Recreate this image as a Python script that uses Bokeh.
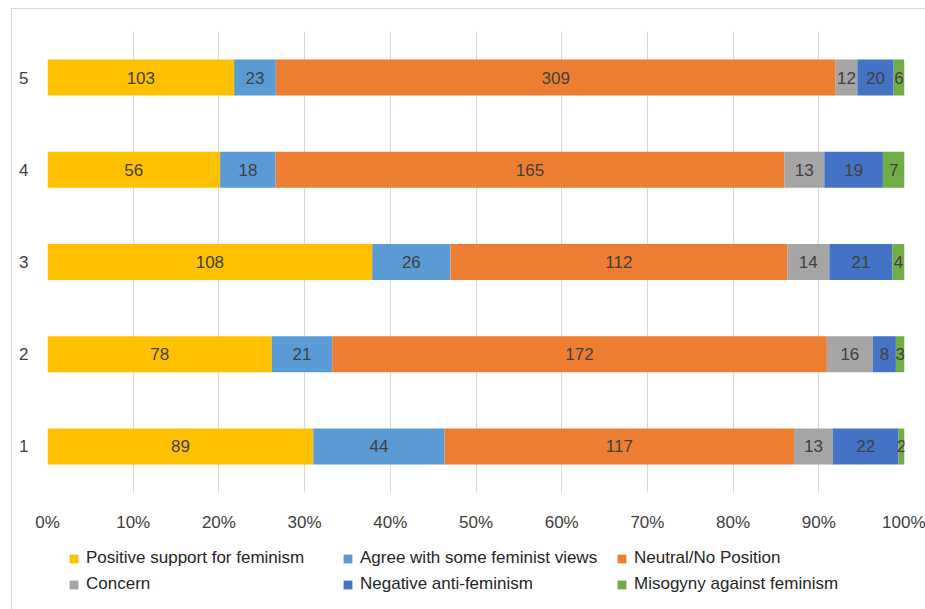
from bokeh.plotting import figure
from bokeh.layouts import column
from bokeh.models import (ColumnDataSource, FixedTicker, NumeralTickFormatter,
                          Legend, LegendItem)
from bokeh.core.properties import value
from bokeh.embed import file_html
from bokeh.resources import INLINE

# Response counts per group (1 = bottom row, 5 = top row)
groups = [1, 2, 3, 4, 5]
positive = [89, 78, 108, 56, 103]
agree = [44, 21, 26, 18, 23]
neutral = [117, 172, 112, 165, 309]
concern = [13, 16, 14, 13, 12]
negative = [22, 8, 21, 19, 20]
misogyny = [2, 3, 4, 7, 6]

series_names = ["Positive support for feminism", "Agree with some feminist views",
                "Neutral/No Position", "Concern", "Negative anti-feminism",
                "Misogyny against feminism"]
series_values = [positive, agree, neutral, concern, negative, misogyny]
colors = ["#FFC000", "#5B9BD5", "#ED7D31", "#A5A5A5", "#4472C4", "#70AD47"]

FONT = "Liberation Sans"
TEXT_COLOR = "#404040"

totals = [sum(vals[i] for vals in series_values) for i in range(len(groups))]
keys = [f"s{k}" for k in range(len(series_names))]
data = {"y": groups}
for k, vals in zip(keys, series_values):
    data[k] = [v / t for v, t in zip(vals, totals)]
source = ColumnDataSource(data)

# ---- main chart -------------------------------------------------------------
p = figure(width=913, height=526, output_backend="svg", toolbar_location=None,
           tools="", x_range=(0, 1), y_range=(0.5, 5.5),
           min_border_left=35, min_border_right=21, min_border_top=22,
           min_border_bottom=43)
p.outline_line_color = None
p.background_fill_color = "white"
p.border_fill_color = "white"

renderers = p.hbar_stack(keys, y="y", height=0.39, color=colors, line_color=None,
                         source=source)

# Segment labels centred in each stacked piece
lx, ly, lt = [], [], []
for i, g in enumerate(groups):
    left = 0.0
    for vals in series_values:
        frac = vals[i] / totals[i]
        lx.append(left + frac / 2)
        ly.append(g)
        lt.append(str(vals[i]))
        left += frac
p.text(x=lx, y=ly, text=lt, text_align="center", text_baseline="middle",
       text_font=value(FONT), text_font_size="17px", text_color=TEXT_COLOR)

p.xaxis.ticker = FixedTicker(ticks=[i / 10 for i in range(11)])
p.xaxis.formatter = NumeralTickFormatter(format="0%")
p.yaxis.ticker = FixedTicker(ticks=groups)
for ax in (p.xaxis[0], p.yaxis[0]):
    ax.axis_line_color = None
    ax.major_tick_line_color = None
    ax.minor_tick_line_color = None
    ax.major_label_text_font = FONT
    ax.major_label_text_font_size = "17px"
    ax.major_label_text_color = TEXT_COLOR
p.xaxis.major_label_standoff = 14
p.yaxis.major_label_standoff = 13

p.xgrid.ticker = FixedTicker(ticks=[i / 10 for i in range(11)])
p.xgrid.grid_line_color = "#D9D9D9"
p.xgrid.grid_line_width = 1
p.ygrid.grid_line_color = None

# ---- legend strip -----------------------------------------------------------
leg_fig = figure(width=913, height=74, output_backend="svg", toolbar_location=None,
                 tools="", x_range=(0, 1), y_range=(0, 1),
                 x_axis_type=None, y_axis_type=None, min_border=0)
leg_fig.outline_line_color = None
leg_fig.xgrid.visible = False
leg_fig.ygrid.visible = False
leg_fig.border_fill_color = "white"
key_renderers = leg_fig.hbar_stack(keys, y="y", height=0.39, color=colors,
                                   line_color=None, source=source)
for r in key_renderers:
    r.visible = False

items = [LegendItem(label=name, renderers=[r])
         for name, r in zip(series_names, key_renderers)]
legend = Legend(items=items, orientation="horizontal", ncols=3, location=(21, 15),
                glyph_width=11, glyph_height=11, label_standoff=7, spacing=6,
                label_width=250, padding=0, margin=0, border_line_color=None,
                background_fill_alpha=0, label_text_font=FONT,
                label_text_font_size="17px", label_text_color="#262626")
leg_fig.add_layout(legend, "center")

# light frame on the top and left edges of the whole chart
layout = column(p, leg_fig, spacing=0, margin=(8, 0, 0, 11),
                styles={"border-top": "1px solid #D6D6D6",
                        "border-left": "1px solid #D6D6D6"})

open("out.html", "w").write(file_html(layout, INLINE))
